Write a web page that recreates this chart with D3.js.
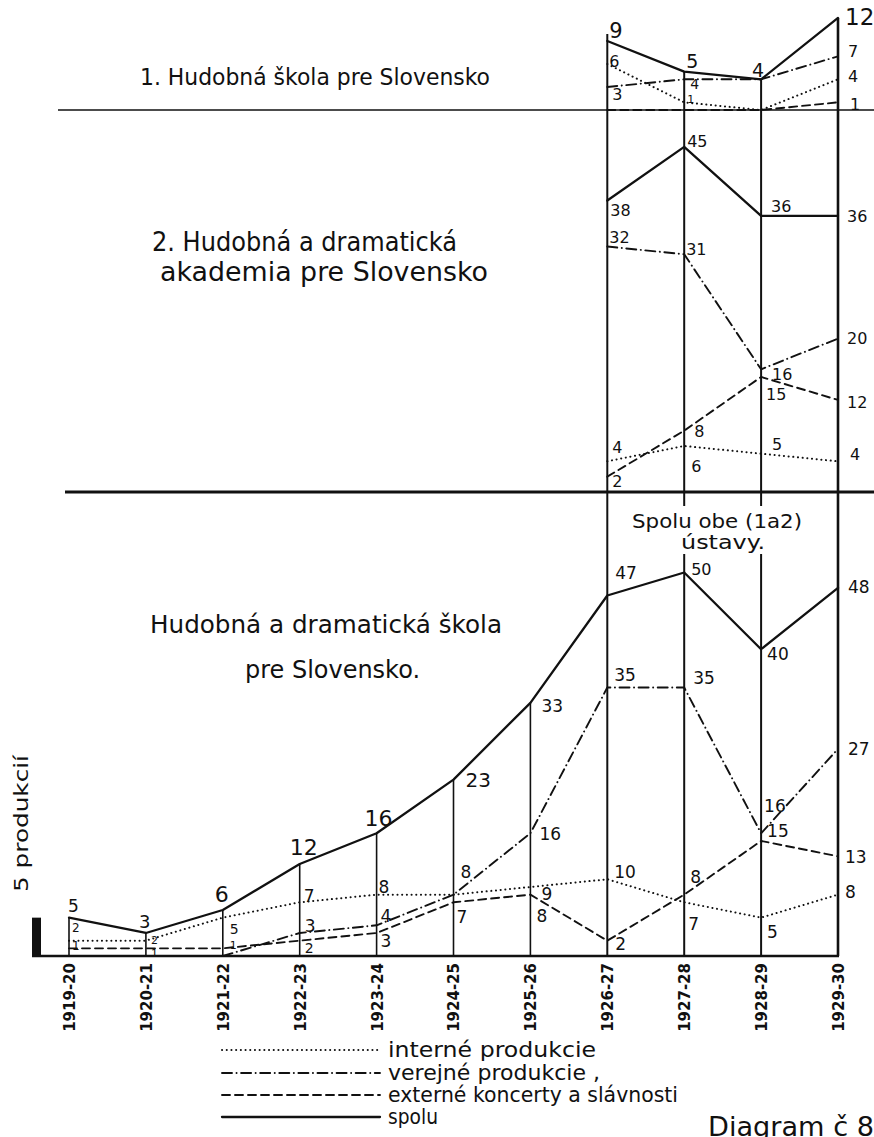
<!DOCTYPE html>
<html><head><meta charset="utf-8">
<script src="https://cdn.jsdelivr.net/npm/d3@7"></script>
<style>body{margin:0;background:#fff} svg{display:block} text{font-family:"DejaVu Sans",sans-serif;fill:#111}</style>
</head><body>
<svg id="c" width="874" height="1137"></svg>
<script>
// ---------- DATA ----------
const years = ["1919-20","1920-21","1921-22","1922-23","1923-24","1924-25","1925-26","1926-27","1927-28","1928-29","1929-30"];
const lateYears = years.slice(7);

// 1. Hudobná škola pre Slovensko (1926-27 .. 1929-30)
const p1Interne = [6, 1, 0, 4];
const p1Verejne = [3, 4, 4, 7];
const p1Externe = [0, 0, 0, 1];
const p1Spolu   = [9, 5, 4, 12];

// 2. Hudobná a dramatická akademia pre Slovensko (1926-27 .. 1929-30)
const p2Interne = [4, 6, 5, 4];
const p2Verejne = [32, 31, 16, 20];
const p2Externe = [2, 8, 15, 12];
const p2Spolu   = [38, 45, 36, 36];

// Hudobná a dramatická škola / spolu obe ústavy (1919-20 .. 1929-30)
const p3Interne = [2, 2, 5, 7, 8, 8, 9, 10, 7, 5, 8];
const p3Verejne = [null, null, 0, 3, 4, 8, 16, 35, 35, 16, 27];
const p3Externe = [1, 1, 1, 2, 3, 7, 8, 2, 8, 15, 13];
const p3Spolu   = [5, 3, 6, 12, 16, 23, 33, 47, 50, 40, 48];

const legendNames = ["interné produkcie", "verejné produkcie ,", "externé koncerty a slávnosti", "spolu"];
const scaleUnitValue = 5;

// ---------- LABEL PLACEMENT (dx, dy, fontSize) ----------
const p1Lbl = {
  spolu:  [[2,-3,21],[2,-4,19],[-9,-2,19],[7,7,23]],
  interne:[[2,3],[3,1,11],null,[10,3]],
  verejne:[[5,13],[6,10,14],null,[10,1]],
  externe:[null,null,null,[12,8]]
};
const p2Lbl = {
  spolu:  [[3,15],[3,0],[10,-4],[9,6]],
  verejne:[[2,-4],[2,1],[11,11],[9,5]],
  externe:[[5,10],[10,6],[5,23],[9,8]],
  interne:[[5,-8],[7,26],[11,-4],[12,-1]]
};
const p3Lbl = {
  spolu:  [[-1,-6,17],[-7,-5,18],[-8,-8,22],[-10,-9,22],[-12,-7,22],[12,7,20],[11,9],[8,-17],[7,2,16],[6,11],[10,5]],
  verejne:[null,null,null,[5,-1],[4,-3],[7,-17],[9,7],[7,-7],[9,-4],[3,-21],[10,6]],
  externe:[[3,2,12],[5,9,11],[7,1,11],[5,12,14],[4,14],[3,21],[6,27],[8,9],[6,-12],[6,-4],[7,7]],
  interne:[[3,-9,12],[5,3,11],[7,16,14],[4,0],[2,-2],null,[11,13],[7,-1],[4,28],[6,20],[7,3]]
};

// ---------- SCALES ----------
const unit = 7.67;
const x = d3.scalePoint().domain(years).range([69, 838]);
const y1 = d3.scaleLinear().domain([0, 12]).range([110, 110 - 12*unit]);
const y2 = d3.scaleLinear().domain([0, 45]).range([492, 492 - 45*unit]);
const y3 = d3.scaleLinear().domain([0, 50]).range([956, 956 - 50*unit]);

const styles = {
  interne: {dash: "0.1,4.6", w: 2.0},
  verejne: {dash: "10,4.5,0.1,4.5", w: 1.9},
  externe: {dash: "8,5", w: 1.9},
  spolu:   {dash: null, w: 2.3}
};

const svg = d3.select("#c");
svg.append("rect").attr("width",874).attr("height",1137).attr("fill","#fff");

// ---------- FRAME LINES ----------
svg.append("line").attr("x1",58).attr("x2",874).attr("y1",y1(0)).attr("y2",y1(0)).attr("stroke","#111").attr("stroke-width",1.6);
svg.append("line").attr("x1",65).attr("x2",874).attr("y1",y2(0)).attr("y2",y2(0)).attr("stroke","#111").attr("stroke-width",3.2);
svg.append("line").attr("x1",32).attr("x2",x(years[10])+1).attr("y1",y3(0)).attr("y2",y3(0)).attr("stroke","#111").attr("stroke-width",2.6);

// verticals
years.forEach((yr,i)=>{
  const top = i < 7 ? y3(p3Spolu[i]) : y1(p1Spolu[i-7]) - (i===7?7:0);
  svg.append("line").attr("x1",x(yr)).attr("x2",x(yr)).attr("y1",top).attr("y2",y3(0))
    .attr("stroke","#111").attr("stroke-width", i===10 ? 2.6 : (i>=7 ? 2.0 : 1.6));
});

// scale bar (5 produkcií)
svg.append("rect").attr("x",32).attr("y",y3(scaleUnitValue)).attr("width",9)
  .attr("height",y3(0)-y3(scaleUnitValue)).attr("fill","#111");
svg.append("text").attr("transform","translate(28,892) rotate(-90)")
  .attr("font-size",19).attr("textLength",137).attr("lengthAdjust","spacingAndGlyphs").text("5 produkcií");

// ---------- SERIES ----------
function drawSeries(xsDomain, yScale, values, key, offsets, defSize){
  const pts = values.map((v,i)=>({x:x(xsDomain[i]), v}));
  const line = d3.line().defined(d=>d.v!=null).x(d=>d.x).y(d=>yScale(d.v));
  const st = styles[key];
  const p = svg.append("path").datum(pts).attr("d",line).attr("fill","none")
    .attr("stroke","#111").attr("stroke-width",st.w).attr("stroke-linecap","round").attr("stroke-linejoin","round");
  if (st.dash) p.attr("stroke-dasharray", st.dash);
  pts.forEach((d,i)=>{
    const o = offsets[i];
    if (!o || d.v==null) return;
    svg.append("text").attr("x",d.x+o[0]).attr("y",yScale(d.v)+o[1])
      .attr("font-size", o[2] || defSize).text(d.v);
  });
}
drawSeries(lateYears, y1, p1Interne, "interne", p1Lbl.interne, 16);
drawSeries(lateYears, y1, p1Externe, "externe", p1Lbl.externe, 16);
drawSeries(lateYears, y1, p1Verejne, "verejne", p1Lbl.verejne, 16);
drawSeries(lateYears, y1, p1Spolu, "spolu", p1Lbl.spolu, 18);

drawSeries(lateYears, y2, p2Interne, "interne", p2Lbl.interne, 16);
drawSeries(lateYears, y2, p2Externe, "externe", p2Lbl.externe, 16);
drawSeries(lateYears, y2, p2Verejne, "verejne", p2Lbl.verejne, 16);
drawSeries(lateYears, y2, p2Spolu, "spolu", p2Lbl.spolu, 16);

drawSeries(years, y3, p3Interne, "interne", p3Lbl.interne, 17);
drawSeries(years, y3, p3Externe, "externe", p3Lbl.externe, 17);
drawSeries(years, y3, p3Verejne, "verejne", p3Lbl.verejne, 17);
drawSeries(years, y3, p3Spolu, "spolu", p3Lbl.spolu, 17);

// ---------- TITLES ----------
function title(t, xx, yy, size, len){
  svg.append("text").attr("x",xx).attr("y",yy).attr("font-size",size)
    .attr("textLength",len).attr("lengthAdjust","spacingAndGlyphs").text(t);
}
title("1. Hudobná škola pre Slovensko", 140, 85, 23, 350);
title("2. Hudobná a dramatická", 152, 251, 26, 305);
title("akademia pre Slovensko", 160, 281, 26, 328);
title("Hudobná a dramatická škola", 150, 633, 24, 352);
title("pre Slovensko.", 245, 678, 24, 175);

svg.append("rect").attr("x",628).attr("y",506).attr("width",180).attr("height",48).attr("fill","#fff");
title("Spolu obe (1a2)", 632, 528, 19, 170);
title("ústavy.", 681, 549, 19, 84);

// ---------- X AXIS ----------
const axis = d3.axisBottom(x).tickSize(0).tickPadding(0);
const ax = svg.append("g").attr("transform",`translate(0,${y3(0)})`).call(axis);
ax.select(".domain").remove();
ax.selectAll("text").attr("transform","rotate(-90)").attr("x",-7).attr("y",0).attr("dy","0.36em")
  .style("text-anchor","end").attr("font-size",15).attr("font-weight","bold")
  .style("font-family","'DejaVu Sans',sans-serif").attr("fill","#111");

// ---------- LEGEND ----------
const legKeys = ["interne","verejne","externe","spolu"];
const legY = [1050, 1073, 1095, 1117];
legKeys.forEach((k,i)=>{
  const st = styles[k];
  const l = svg.append("line").attr("x1",222).attr("x2",380).attr("y1",legY[i]).attr("y2",legY[i])
    .attr("stroke","#111").attr("stroke-width",st.w).attr("stroke-linecap","round");
  if (st.dash) l.attr("stroke-dasharray", st.dash);
});
const legLen = [208, 212, 290, 50];
legendNames.forEach((n,i)=>{
  svg.append("text").attr("x",388).attr("y",legY[i]+7).attr("font-size",21)
    .attr("textLength",legLen[i]).attr("lengthAdjust","spacingAndGlyphs").text(n);
});

svg.append("text").attr("x",708).attr("y",1136).attr("font-size",26)
  .attr("textLength",166).attr("lengthAdjust","spacingAndGlyphs").text("Diagram č 8");
</script>
</body></html>
